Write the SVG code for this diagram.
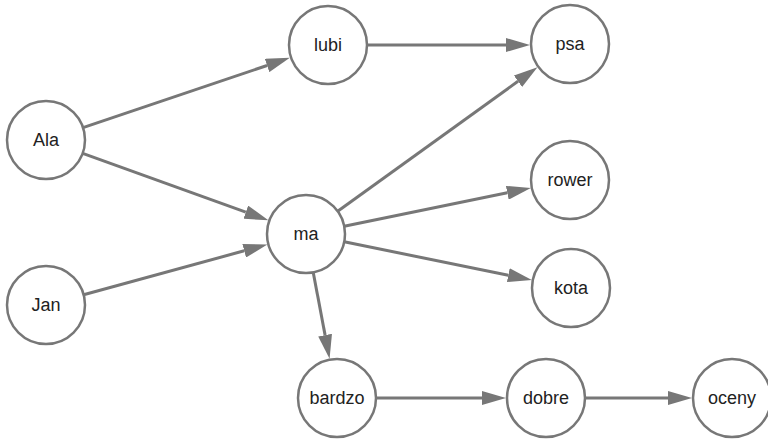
<svg xmlns="http://www.w3.org/2000/svg" width="768" height="440" viewBox="0 0 768 440">
  <defs>
    <marker id="arrow" viewBox="0 0 24 14" refX="0" refY="7" markerWidth="24" markerHeight="14" markerUnits="userSpaceOnUse" orient="auto">
      <path d="M0,0 L24,7 L0,14 z" fill="#777777"/>
    </marker>
    <style>
      .node circle { fill: #ffffff; stroke: #777777; stroke-width: 2.5; }
      .node text { font-family: "Liberation Sans", Arial, sans-serif; font-size: 18px; fill: #222222; text-anchor: middle; dominant-baseline: central; }
      .edges line { stroke: #777777; stroke-width: 3; marker-end: url(#arrow); }
    </style>
  </defs>
  <rect width="768" height="440" fill="#ffffff"/>

  <!-- connectors: each line stops at the arrowhead base -->
  <g id="edges" class="edges">
    <line x1="83" y1="127.6" x2="267.1" y2="65.5"/>
    <line x1="82.7" y1="153.3" x2="245.8" y2="212.2"/>
    <line x1="83.6" y1="294.7" x2="244.2" y2="250.8"/>
    <line x1="367" y1="45" x2="506" y2="45"/>
    <line x1="337.7" y1="211.3" x2="518" y2="81.3"/>
    <line x1="344.2" y1="226.2" x2="507.3" y2="192.8"/>
    <line x1="344.2" y1="241.8" x2="508.3" y2="275.2"/>
    <line x1="313.2" y1="272.3" x2="325.1" y2="335.1"/>
    <line x1="376" y1="398" x2="482" y2="398"/>
    <line x1="585" y1="398" x2="668" y2="398"/>
  </g>

  <g id="node-ala" class="node"><circle cx="46" cy="140" r="39"/><text x="46" y="140">Ala</text></g>
  <g id="node-jan" class="node"><circle cx="46" cy="305" r="39"/><text x="46" y="305">Jan</text></g>
  <g id="node-lubi" class="node"><circle cx="328" cy="45" r="39"/><text x="328" y="45">lubi</text></g>
  <g id="node-ma" class="node"><circle cx="306" cy="234" r="39"/><text x="306" y="234">ma</text></g>
  <g id="node-psa" class="node"><circle cx="570" cy="44" r="39"/><text x="570" y="44">psa</text></g>
  <g id="node-rower" class="node"><circle cx="570" cy="180" r="39"/><text x="570" y="180">rower</text></g>
  <g id="node-kota" class="node"><circle cx="571" cy="288" r="39"/><text x="571" y="288">kota</text></g>
  <g id="node-bardzo" class="node"><circle cx="337" cy="398" r="39"/><text x="337" y="398">bardzo</text></g>
  <g id="node-dobre" class="node"><circle cx="546" cy="398" r="39"/><text x="546" y="398">dobre</text></g>
  <g id="node-oceny" class="node"><circle cx="732" cy="398" r="39"/><text x="732" y="398">oceny</text></g>
</svg>
